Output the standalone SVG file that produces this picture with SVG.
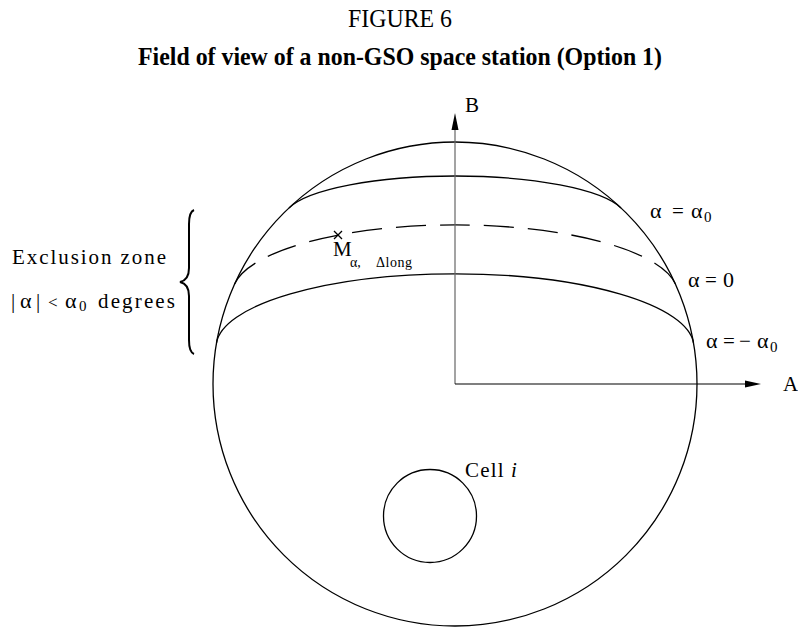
<svg xmlns="http://www.w3.org/2000/svg" width="798" height="627" viewBox="0 0 798 627" font-family="'Liberation Serif', 'Times New Roman', serif">
<style>
  text, tspan { font-family: "Liberation Serif", "Times New Roman", serif; fill: #000; }
  .ln { fill: none; stroke: #000; stroke-width: 1.3; }
  .dash { fill: none; stroke: #000; stroke-width: 1.3; stroke-dasharray: 30 14; }
  .axis { fill: none; stroke: #000; stroke-width: 1.2; }
  .lbl { font-size: 21px; }
  .gr { font-size: 22px; }
  .sub { font-size: 15px; }
</style>
<rect width="798" height="627" fill="#fff"/>

<g id="title">
  <text x="400" y="27" font-size="25" text-anchor="middle" textLength="104" lengthAdjust="spacingAndGlyphs">FIGURE 6</text>
  <text x="400" y="65" font-size="25" font-weight="bold" text-anchor="middle" textLength="524" lengthAdjust="spacingAndGlyphs">Field of view of a non-GSO space station (Option 1)</text>
</g>

<g id="sphere">
  <circle class="ln" cx="455" cy="384" r="242"/>
</g>

<g id="arc-alpha0">
  <path class="ln" d="M 289 208 A 171.4 42.6 0 0 1 621 208"/>
</g>
<g id="arc-zero">
  <path class="dash" d="M 234.6 284 A 222.5 68.5 0 0 1 675.4 284"/>
</g>
<g id="arc-minus-alpha0">
  <path class="ln" d="M 216.5 343 A 238.8 72.8 0 0 1 693.5 343"/>
</g>

<g id="cell-i">
  <circle class="ln" cx="430" cy="516" r="46.5"/>
  <text x="465" y="477" font-size="21" letter-spacing="1.2">Cell</text>
  <text x="511" y="477" font-size="21" font-style="italic">i</text>
</g>

<g id="point-M">
  <path class="ln" d="M 334 231 L 342 239 M 334 239 L 342 231"/>
  <text x="333" y="256" font-size="21">M</text>
  <text x="350" y="267" font-size="14">α,</text>
  <text x="376" y="267" font-size="14" letter-spacing="0.5">Δlong</text>
</g>

<g id="exclusion-zone">
  <path d="M 194 210 Q 189 212 189 224 L 189 268 Q 189 280 180 282 Q 189 284 189 296 L 189 340 Q 189 352 194 354" fill="none" stroke="#000" stroke-width="2"/>
  <text x="12" y="264" font-size="21" textLength="154">Exclusion zone</text>
  <text x="11" y="308" font-size="21">|</text>
  <text x="20" y="308" class="gr">α</text>
  <text x="36" y="308" font-size="21">|</text>
  <text x="48" y="308" font-size="17">&lt;</text>
  <text x="65" y="308" class="gr">α</text>
  <text x="79" y="311" font-size="15">0</text>
  <text x="98" y="308" font-size="21" textLength="77">degrees</text>
</g>

<g id="labels-alpha">
  <text x="650" y="218" class="gr">α</text>
  <text x="672" y="218" class="lbl">=</text>
  <text x="691" y="218" class="gr">α</text>
  <text x="704" y="222" class="sub">0</text>

  <text x="688" y="287" class="gr">α</text>
  <text x="705" y="287" class="lbl">=</text>
  <text x="723" y="287" font-size="22">0</text>

  <text x="706" y="348" class="gr">α</text>
  <text x="723" y="348" class="lbl">=</text>
  <text x="739" y="348" class="lbl">−</text>
  <text x="757" y="348" class="gr">α</text>
  <text x="770" y="352" class="sub">0</text>
</g>

<g id="connectors">
  <line x1="455" y1="384" x2="455" y2="128" stroke="#666" stroke-width="1.2"/>
  <polygon points="455,113 451.5,130 458.5,130" fill="#000"/>
  <line class="axis" x1="455" y1="384" x2="747" y2="384"/>
  <polygon points="761,384 745,380.5 745,387.5" fill="#000"/>
  <text x="465" y="112" class="lbl">B</text>
  <text x="783" y="391" class="lbl">A</text>
</g>
</svg>
